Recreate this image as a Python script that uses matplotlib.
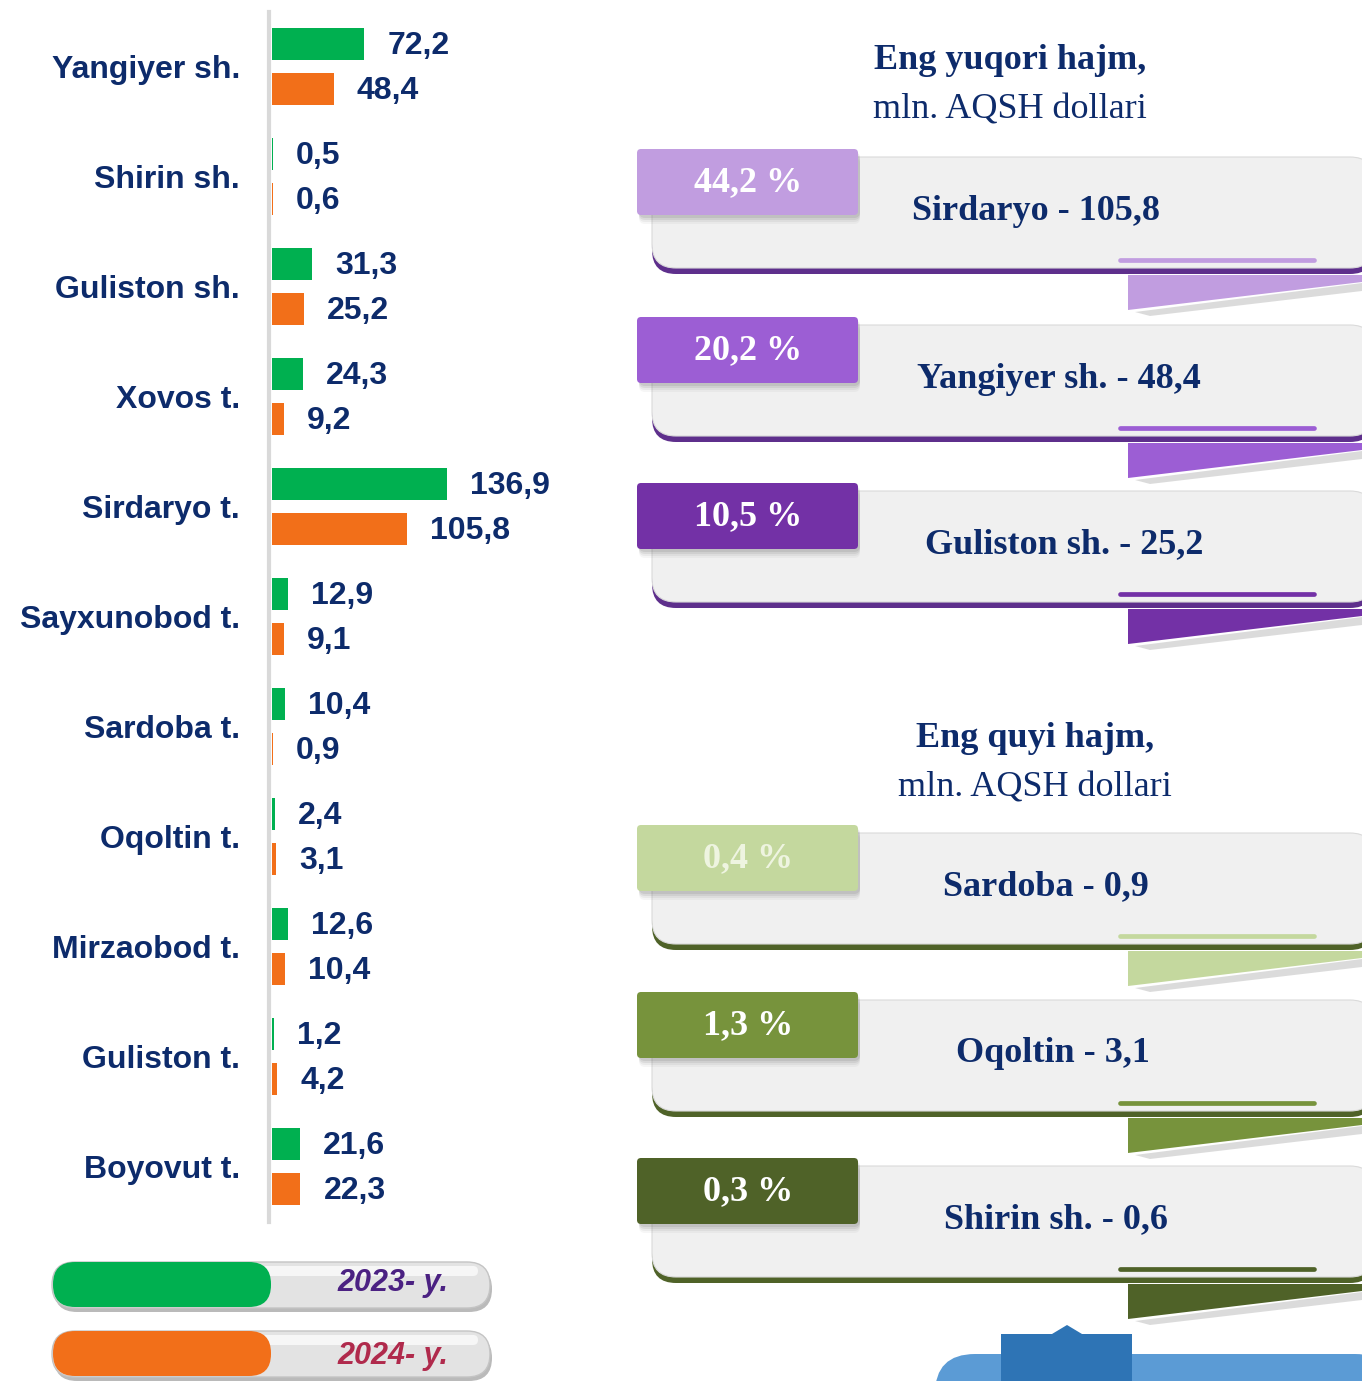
import numpy as np
import matplotlib
matplotlib.use('Agg')
import matplotlib.pyplot as plt
from matplotlib.patches import FancyBboxPatch, Polygon

plt.rcParams['font.family'] = ['Liberation Sans', 'DejaVu Sans']

W, H = 1362, 1381

# Tumanlar va shaharlar bo'yicha hajm, mln. AQSH dollari
districts = ['Yangiyer sh.', 'Shirin sh.', 'Guliston sh.', 'Xovos t.', 'Sirdaryo t.',
             'Sayxunobod t.', 'Sardoba t.', 'Oqoltin t.', 'Mirzaobod t.',
             'Guliston t.', 'Boyovut t.']
vals_2023 = [72.2, 0.5, 31.3, 24.3, 136.9, 12.9, 10.4, 2.4, 12.6, 1.2, 21.6]
vals_2024 = [48.4, 0.6, 25.2, 9.2, 105.8, 9.1, 0.9, 3.1, 10.4, 4.2, 22.3]
years = ['2023- y.', '2024- y.']
bar_colors = ['#00b050', '#f26f19']
year_text_colors = ['#4b2182', '#b02a4c']

# eng yuqori va eng quyi hajm
top_names = ['Sirdaryo', 'Yangiyer sh.', 'Guliston sh.']
top_vals = [105.8, 48.4, 25.2]
top_shares = [44.2, 20.2, 10.5]
low_names = ['Sardoba', 'Oqoltin', 'Shirin sh.']
low_vals = [0.9, 3.1, 0.6]
low_shares = [0.4, 1.3, 0.3]

NAVY = '#0d2b6b'
SERIF = 'Liberation Serif'


def fmt(v):
    return f"{v:.1f}".replace('.', ',')


fig = plt.figure(figsize=(W / 100, H / 100), dpi=100)

# fon uchun piksel koordinatali o'qlar
bg = fig.add_axes([0, 0, 1, 1], zorder=0)
bg.set_xlim(0, W)
bg.set_ylim(H, 0)
bg.axis('off')

# --- chap tomondagi ustunli diagramma ---
px_per_unit = 1.278
ax_w = 420
ax = fig.add_axes([272 / W, 1 - 1221.5 / H, ax_w / W, 1210 / H], zorder=2)
ax.patch.set_alpha(0)
for side in ['top', 'right', 'bottom']:
    ax.spines[side].set_visible(False)
ax.spines['left'].set_color('#d9d9d9')
ax.spines['left'].set_linewidth(3)
ax.spines['left'].set_position(('outward', 2))

y = np.arange(len(districts))
ax.barh(y - 0.205, vals_2023, height=0.29, color=bar_colors[0], zorder=3)
ax.barh(y + 0.205, vals_2024, height=0.29, color=bar_colors[1], zorder=3)
ax.set_xlim(0, ax_w / px_per_unit)
ax.set_ylim(len(districts) - 0.5, -0.5)
ax.set_xticks([])
ax.set_yticks(y)
ax.set_yticklabels(districts, fontsize=23, fontweight='bold', color=NAVY)
ax.tick_params(axis='y', length=0, pad=21)

for vals, off in [(vals_2023, -0.185), (vals_2024, 0.225)]:
    for i, v in enumerate(vals):
        ax.text(v + 18, i + off, fmt(v), va='center', ha='left',
                fontsize=23, fontweight='bold', color=NAVY)

# --- legenda ---
pill_tops = [1262, 1331]
text_ys = [1283, 1356]
for top, ty, label, col, tcol in zip(pill_tops, text_ys, years, bar_colors, year_text_colors):
    bg.add_patch(FancyBboxPatch((54, top + 4), 438, 46,
                                boxstyle='round,pad=0,rounding_size=23',
                                fc='#8c8c8c', ec='none', alpha=0.6))
    bg.add_patch(FancyBboxPatch((52, top), 438, 46,
                                boxstyle='round,pad=0,rounding_size=23',
                                fc='#e3e3e3', ec='#c4c4c4', lw=1))
    bg.add_patch(FancyBboxPatch((64, top + 4), 414, 10,
                                boxstyle='round,pad=0,rounding_size=5',
                                fc='white', ec='none', alpha=0.7))
    bg.add_patch(FancyBboxPatch((53, top), 218, 45,
                                boxstyle='round,pad=0,rounding_size=22',
                                fc=col, ec='none'))
    bg.text(393, ty, label, ha='center', va='center', fontsize=22,
            fontweight='bold', fontstyle='italic', color=tcol)


# --- o'ng tomondagi lentalar ---
def ribbon(t, share, text, text_x, tab_col, dark_col, light_col, pct_col):
    # tab soyasi
    for d, a in [(9, 0.05), (7, 0.07), (5, 0.1), (3, 0.12)]:
        bg.add_patch(FancyBboxPatch((637 + 2, t + d), 221, 66,
                                    boxstyle='round,pad=0,rounding_size=6',
                                    fc='#555555', ec='none', alpha=a, zorder=3))
    # pastki to'q chiziq
    bg.add_patch(FancyBboxPatch((652, t + 14), 722, 111,
                                boxstyle='round,pad=0,rounding_size=24',
                                fc=dark_col, ec='none', zorder=1))
    # kulrang panel
    bg.add_patch(FancyBboxPatch((652, t + 8), 722, 111,
                                boxstyle='round,pad=0,rounding_size=24',
                                fc='#f0f0f0', ec='#dadada', lw=0.8, zorder=2))
    # ostidagi burilgan uchburchak
    bg.add_patch(Polygon([(1135, t + 163), (1362, t + 134), (1362, t + 142), (1150, t + 167)],
                         closed=True, fc='#9a9a9a', ec='none', alpha=0.35, zorder=1))
    bg.add_patch(Polygon([(1128, t + 126), (1362, t + 126), (1362, t + 133), (1128, t + 161)],
                         closed=True, fc=light_col, ec='none', zorder=1))
    bg.plot([1120, 1314], [t + 111, t + 111], color=light_col, lw=3.4,
            solid_capstyle='round', zorder=3)
    # foiz yozilgan tab
    bg.add_patch(FancyBboxPatch((637, t), 221, 66,
                                boxstyle='round,pad=0,rounding_size=4',
                                fc=tab_col, ec='none', zorder=4))
    bg.text(748, t + 34, f"{fmt(share)} %", ha='center', va='center',
            fontsize=26, fontweight='bold', family=SERIF, color=pct_col, zorder=5)
    bg.text(text_x, t + 62, text, ha='center', va='center', fontsize=26,
            fontweight='bold', family=SERIF, color=NAVY, zorder=5)


bg.text(1010, 60, 'Eng yuqori hajm,', ha='center', va='center', fontsize=26,
        fontweight='bold', family=SERIF, color=NAVY)
bg.text(1010, 110, 'mln. AQSH dollari', ha='center', va='center', fontsize=26,
        family=SERIF, color=NAVY)
bg.text(1035, 738, 'Eng quyi hajm,', ha='center', va='center', fontsize=26,
        fontweight='bold', family=SERIF, color=NAVY)
bg.text(1035, 788, 'mln. AQSH dollari', ha='center', va='center', fontsize=26,
        family=SERIF, color=NAVY)

top_tabs = [149, 317, 483]
top_text_x = [1036, 1059, 1064]
top_tab_cols = ['#c19de0', '#9c5ed4', '#7331a6']
for t, tx, n, v, s, c in zip(top_tabs, top_text_x, top_names, top_vals, top_shares, top_tab_cols):
    ribbon(t, s, f"{n} - {fmt(v)}", tx, c, '#5e2f8c', c, 'white')

low_tabs = [825, 992, 1158]
low_text_x = [1046, 1053, 1056]
low_tab_cols = ['#c4d89e', '#77933c', '#4f6228']
low_pct_cols = ['#eef4e0', 'white', 'white']
for t, tx, n, v, s, c, pc in zip(low_tabs, low_text_x, low_names, low_vals, low_shares,
                                 low_tab_cols, low_pct_cols):
    ribbon(t, s, f"{n} - {fmt(v)}", tx, c, '#4f6228', c, pc)

# pastki o'ng burchakdagi ko'k shakl
bg.add_patch(FancyBboxPatch((935, 1354), 460, 80,
                            boxstyle='round,pad=0,rounding_size=40',
                            fc='#5b9bd5', ec='none', zorder=1))
bg.add_patch(Polygon([(1001, 1390), (1001, 1334), (1052, 1334), (1067, 1325),
                      (1082, 1334), (1132, 1334), (1132, 1390)],
                     closed=True, fc='#2e74b5', ec='none', zorder=2))

fig.savefig('out.png', dpi=100)
